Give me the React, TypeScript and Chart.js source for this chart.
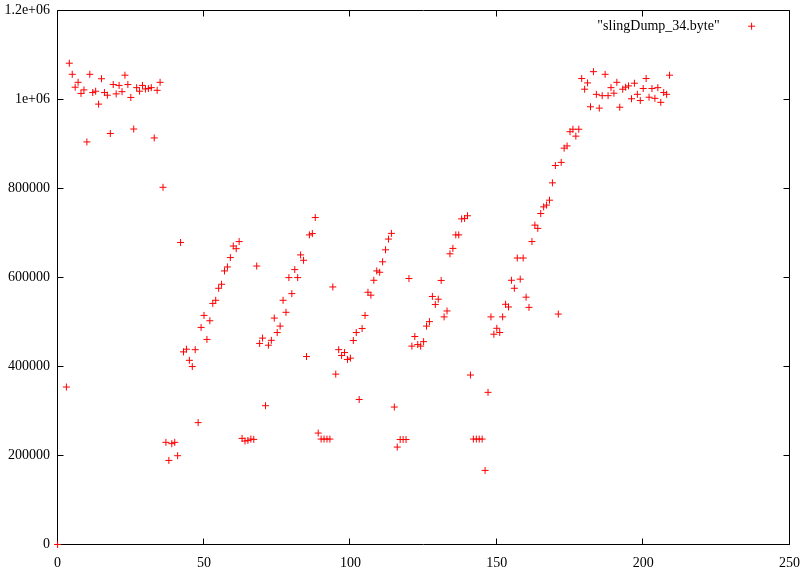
import React, { useEffect, useRef } from 'react';
import { Chart, registerables } from 'chart.js';

Chart.register(...registerables);

// sample index (x)
const sampleIndex = [
  0,
  3, 4, 5, 6, 7, 8, 9, 10, 11, 12,
  13, 14, 15, 16, 17, 18, 19, 20, 21, 22,
  23, 24, 25, 26, 27, 28, 29, 30, 31, 32,
  33, 34, 35, 36, 37, 38, 39, 40, 41, 42,
  43, 44, 45, 46, 47, 48, 49, 50, 51, 52,
  53, 54, 55, 56, 57, 58, 59, 60, 61, 62,
  63, 64, 65, 66, 67, 68, 69, 70, 71, 72,
  73, 74, 75, 76, 77, 78, 79, 80, 81, 82,
  83, 84, 85, 86, 87, 88, 89, 90, 91, 92,
  93, 94, 95, 96, 97, 98, 99, 100, 101, 102,
  103, 104, 105, 106, 107, 108, 109, 110, 111, 112,
  113, 114, 115, 116, 117, 118, 119, 120, 121, 122,
  123, 124, 125, 126, 127, 128, 129, 130, 131, 132,
  133, 134, 135, 136, 137, 138, 139, 140, 141, 142,
  143, 144, 145, 146, 147, 148, 149, 150, 151, 152,
  153, 154, 155, 156, 157, 158, 159, 160, 161, 162,
  163, 164, 165, 166, 167, 168, 169, 170, 171, 172,
  173, 174, 175, 176, 177, 178, 179, 180, 181, 182,
  183, 184, 185, 186, 187, 188, 189, 190, 191, 192,
  193, 194, 195, 196, 197, 198, 199, 200, 201, 202,
  203, 204, 205, 206, 207, 208, 209,
];

// byte values (y)
const byteValues = [
  0,
  354000, 1082000, 1057000, 1028000, 1039000, 1014000, 1022000, 905000, 1057000, 1016000,
  1019000, 990000, 1047000, 1016000, 1010000, 924000, 1034000, 1013000, 1032000, 1018000,
  1055000, 1034000, 1005000, 934000, 1027000, 1019000, 1032000, 1024000, 1025000, 1027000,
  914000, 1021000, 1039000, 803000, 229600, 189000, 226700, 229600, 199600, 679000,
  433000, 439000, 414000, 400000, 438000, 274000, 488000, 515000, 461000, 503000,
  542000, 549000, 576000, 585000, 615000, 624000, 645000, 671000, 665000, 681000,
  238600, 232600, 234000, 237000, 236300, 626000, 452000, 464000, 312000, 448000,
  459000, 509000, 476500, 491000, 549000, 522000, 600000, 564000, 618000, 600000,
  651000, 639000, 422500, 696000, 699000, 735000, 250500, 237000, 237000, 237000,
  237000, 579000, 383000, 438000, 425000, 431500, 416000, 419000, 458500, 476500,
  326000, 485500, 515000, 567000, 560500, 594000, 615000, 612000, 635500, 662500,
  686600, 699400, 309000, 219000, 236000, 236000, 236000, 598000, 446000, 467500,
  449500, 446000, 456000, 491000, 501000, 557600, 539600, 551500, 593600, 511700,
  525000, 653500, 665600, 696000, 696000, 732000, 733000, 739000, 381000, 237000,
  237000, 237000, 237000, 166600, 342000, 511700, 472700, 486000, 476500, 511700,
  540000, 534000, 594000, 576000, 644000, 596500, 644000, 556000, 533000, 681000,
  718000, 710600, 744000, 759000, 763000, 774000, 813000, 852000, 518000, 859000,
  891000, 896000, 928000, 933500, 918000, 933500, 1047500, 1023500, 1037700, 984000,
  1063000, 1012000, 981000, 1009000, 1057000, 1009000, 1027000, 1014500, 1039000, 983000,
  1023500, 1028000, 1031000, 1002000, 1037000, 1012000, 998000, 1025000, 1047500, 1005500,
  1025000, 1003000, 1027000, 994000, 1016000, 1012000, 1055000,
];

const xTickValues = [0, 50, 100, 150, 200, 250];
const xTickLabels = ['0', '50', '100', '150', '200', '250'];
const yTickValues = [0, 200000, 400000, 600000, 800000, 1000000, 1200000];
const yTickLabels = ['0', '200000', '400000', '600000', '800000', '1e+06', '1.2e+06'];
const seriesLabel = '"slingDump_34.byte"';

const FONT = "'Liberation Serif', 'Times New Roman', Times, serif";
const RED = '#ff0000';
const TICK_LEN = 6;
const MARK_R = 3.5;

const framePlugin = {
  id: 'gnuplotFrame',
  beforeDatasetsDraw(chart: any) {
    const { ctx, chartArea: a, scales } = chart;
    const L = Math.round(a.left) - 0.5;
    const R = Math.round(a.right) - 0.5;
    const T = Math.floor(a.top) + 0.5;
    const B = Math.floor(a.bottom) + 0.5;
    ctx.save();
    ctx.strokeStyle = '#000';
    ctx.lineWidth = 1;
    ctx.beginPath();
    ctx.rect(L, T, R - L, B - T);
    for (const v of xTickValues) {
      const px = Math.round(scales.x.getPixelForValue(v)) - 0.5;
      ctx.moveTo(px, B);
      ctx.lineTo(px, B - TICK_LEN);
      ctx.moveTo(px, T);
      ctx.lineTo(px, T + TICK_LEN);
    }
    for (const v of yTickValues) {
      const py = Math.floor(scales.y.getPixelForValue(v)) + 0.5;
      ctx.moveTo(L, py);
      ctx.lineTo(L + TICK_LEN, py);
      ctx.moveTo(R, py);
      ctx.lineTo(R - TICK_LEN, py);
    }
    ctx.stroke();
    ctx.restore();
  },
};

const keyPlugin = {
  id: 'gnuplotKey',
  afterDatasetsDraw(chart: any) {
    const { ctx, chartArea: a } = chart;
    const ds = chart.data.datasets[0];
    const textRight = a.right - 70;
    const markX = a.right - 38;
    const y = a.top + 15.5;
    ctx.save();
    ctx.font = `14px ${FONT}`;
    ctx.fillStyle = '#000';
    ctx.textAlign = 'right';
    ctx.textBaseline = 'middle';
    ctx.fillText(ds.label, textRight, y);
    ctx.strokeStyle = RED;
    ctx.lineWidth = 1;
    ctx.beginPath();
    ctx.moveTo(markX - MARK_R, y);
    ctx.lineTo(markX + MARK_R, y);
    ctx.moveTo(markX, y - MARK_R);
    ctx.lineTo(markX, y + MARK_R);
    ctx.stroke();
    ctx.restore();
  },
};

export default function App() {
  const ref = useRef<HTMLCanvasElement>(null);

  useEffect(() => {
    const canvas = ref.current;
    if (!canvas) return;
    const points = sampleIndex.map((x, i) => ({ x, y: byteValues[i] }));
    const chart = new Chart(canvas, {
      type: 'scatter',
      data: {
        datasets: [
          {
            label: seriesLabel,
            data: points,
            pointStyle: 'cross',
            pointRadius: MARK_R,
            pointHoverRadius: MARK_R,
            pointBorderWidth: 1,
            pointBorderColor: RED,
            pointBackgroundColor: RED,
            borderColor: RED,
            backgroundColor: RED,
            clip: false,
          } as any,
        ],
      },
      options: {
        responsive: false,
        animation: false,
        devicePixelRatio: 1,
        events: [],
        layout: { autoPadding: false, padding: { top: 10.7, right: 18.4, left: 0, bottom: 0 } },
        plugins: {
          legend: { display: false },
          tooltip: { enabled: false },
        },
        scales: {
          x: {
            type: 'linear',
            min: 0,
            max: 250,
            afterFit: (axis: any) => {
              axis.height = 30.5;
              axis.paddingLeft = 0;
              axis.paddingRight = 0;
              axis.paddingTop = 0;
              axis.paddingBottom = 0;
            },
            afterBuildTicks: (axis: any) => {
              axis.ticks = xTickValues.map((v) => ({ value: v }));
            },
            ticks: {
              autoSkip: false,
              maxRotation: 0,
              padding: 10,
              color: '#000',
              font: { family: FONT, size: 14 },
              callback: (v: any) => xTickLabels[xTickValues.indexOf(Number(v))] ?? '',
            },
            grid: { display: false, drawTicks: false },
            border: { display: false },
          },
          y: {
            type: 'linear',
            min: 0,
            max: 1200000,
            afterFit: (axis: any) => {
              axis.width = 57.6;
              axis.paddingLeft = 0;
              axis.paddingRight = 0;
              axis.paddingTop = 0;
              axis.paddingBottom = 0;
            },
            afterBuildTicks: (axis: any) => {
              axis.ticks = yTickValues.map((v) => ({ value: v }));
            },
            ticks: {
              autoSkip: false,
              padding: 7.6,
              color: '#000',
              font: { family: FONT, size: 14 },
              callback: (v: any) => yTickLabels[yTickValues.indexOf(Number(v))] ?? '',
            },
            grid: { display: false, drawTicks: false },
            border: { display: false },
          },
        },
      },
      plugins: [framePlugin, keyPlugin],
    });
    return () => chart.destroy();
  }, []);

  return (
    <div style={{ position: 'absolute', left: 0, top: 0, width: 808, height: 575, background: '#fff' }}>
      <canvas ref={ref} width={808} height={575} style={{ display: 'block' }} />
    </div>
  );
}
